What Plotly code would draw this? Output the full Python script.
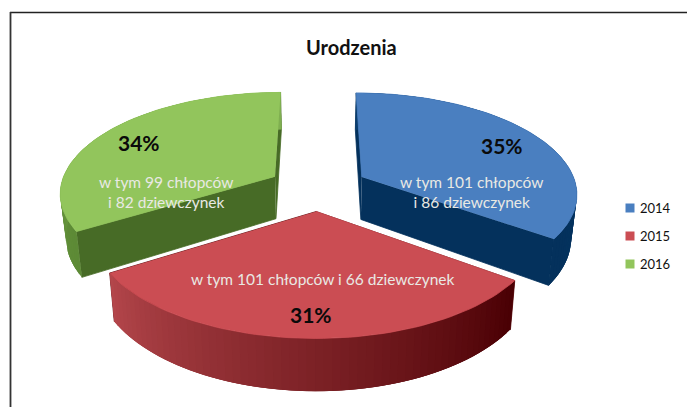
import numpy as np
import plotly.graph_objects as go

# Data
years = ["2014", "2015", "2016"]
boys = [101, 101, 99]
girls = [86, 66, 82]
percent_labels = ["35%", "31%", "34%"]
notes = [
    "w tym 101 chłopców<br>i 86 dziewczynek",
    "w tym 101 chłopców i 66 dziewczynek",
    "w tym 99 chłopców<br>i 82 dziewczynek",
]
title = "Urodzenia"

# Styles
top_colors = ["#4a7fc0", "#cb4d53", "#92c55c"]
wall_colors = ["#04315c", "#5a0a0c", "#476b26"]
arc_from = ["#0a3d6e", "#4a0004", "#5d8a36"]   # colour at the slice's start angle
arc_to = ["#04315c", "#b3464b", "#7faf50"]     # colour at the slice's end angle
note_pos = [(471, 192), (323, 279), (166, 192)]
pct_pos = [(502, 145), (311, 314), (139, 142)]
legend_x, legend_ys, legend_text_x = 630, [208, 236, 264], 638

# Projection of the pie on to the page (in page pixels)
CX, CY, R, EXPLODE, HEIGHT, SQUASH, PERSP, CONVERGE = 318, 187.5, 215, 50, 43, 0.464, 0.0007, 0.022


def project(X, Y, Z=0.0):
    s = 1.0 / (1.0 + PERSP * Y)
    return CX + X * s * (1 - CONVERGE * Z / HEIGHT), CY - SQUASH * Y * s + Z * s


def rgb(c):
    return np.array([int(c[i:i + 2], 16) for i in (1, 3, 5)], dtype=float)


def mix(a, b, t):
    v = rgb(a) * (1 - t) + rgb(b) * t
    return "rgb(%d,%d,%d)" % tuple(v)


def poly(px, py, color, width=0.8):
    return go.Scatter(x=px, y=py, mode="lines", fill="toself", fillcolor=color,
                      line=dict(color=color, width=width), hoverinfo="skip", showlegend=False)


totals = np.array(boys) + np.array(girls)
edges = np.concatenate([[0], np.cumsum(totals) / totals.sum() * 2 * np.pi])

fig = go.Figure()
for i in [2, 0, 1]:  # back slices first, the front slice last
    a0, a1 = edges[i], edges[i + 1]
    mid = (a0 + a1) / 2
    ox, oy = EXPLODE * np.sin(mid), EXPLODE * np.cos(mid)
    ang = np.linspace(a0, a1, 61)
    rx, ry = ox + R * np.sin(ang), oy + R * np.cos(ang)

    # side walls through the centre
    for k in (0, -1):
        tx, ty = project(np.array([ox, rx[k]]), np.array([oy, ry[k]]))
        bx, by = project(np.array([rx[k], ox]), np.array([ry[k], oy]), HEIGHT)
        fig.add_trace(poly(list(tx) + list(bx), list(ty) + list(by), wall_colors[i]))

    # curved outer wall: each band runs under the next one, so no seams show
    for j in range(len(ang) - 1):
        xs, ys = rx[j:j + 4], ry[j:j + 4]
        tx, ty = project(xs, ys)
        bx, by = project(xs[::-1], ys[::-1], HEIGHT)
        fig.add_trace(poly(list(tx) + list(bx), list(ty) + list(by),
                           mix(arc_from[i], arc_to[i], j / (len(ang) - 2)), width=0))

    # top face
    tx, ty = project(np.r_[ox, rx], np.r_[oy, ry])
    fig.add_trace(poly(tx, ty, top_colors[i]))

# legend
fig.add_trace(go.Scatter(x=[legend_x] * 3, y=legend_ys, mode="markers", hoverinfo="skip",
                         showlegend=False,
                         marker=dict(symbol="square", size=9, color=top_colors)))

annotations = [dict(x=351, y=47, text="<b>%s</b>" % title, showarrow=False,
                    font=dict(family="Lato", size=20, color="#111111"))]
for (nx, ny), txt in zip(note_pos, notes):
    annotations.append(dict(x=nx, y=ny, text=txt, showarrow=False, align="center",
                            font=dict(family="Lato", size=15.5, color="#e9e9e4")))
for (nx, ny), txt in zip(pct_pos, percent_labels):
    annotations.append(dict(x=nx, y=ny, text="<b>%s</b>" % txt, showarrow=False,
                            font=dict(family="Lato", size=21, color="#0a0a0a")))
for yy, txt in zip(legend_ys, years):
    annotations.append(dict(x=legend_text_x, y=yy, text=txt, showarrow=False, xanchor="left",
                            font=dict(family="Lato", size=13, color="#111111")))

shapes = [
    dict(type="line", x0=10, x1=687, y0=12.5, y1=12.5, line=dict(color="#222222", width=1.6)),
    dict(type="line", x0=10.5, x1=10.5, y0=12, y1=407, line=dict(color="#333333", width=1.8)),
]

fig.update_layout(
    width=687, height=407, autosize=False,
    margin=dict(l=0, r=0, t=0, b=0),
    paper_bgcolor="#ffffff", plot_bgcolor="#ffffff",
    showlegend=False,
    xaxis=dict(range=[0, 687], visible=False, fixedrange=True),
    yaxis=dict(range=[407, 0], visible=False, fixedrange=True),
    annotations=annotations, shapes=shapes,
)
fig.write_html("out.html", config=dict(displayModeBar=False),
               post_script="document.body.style.margin='0';document.body.style.overflow='hidden';")
